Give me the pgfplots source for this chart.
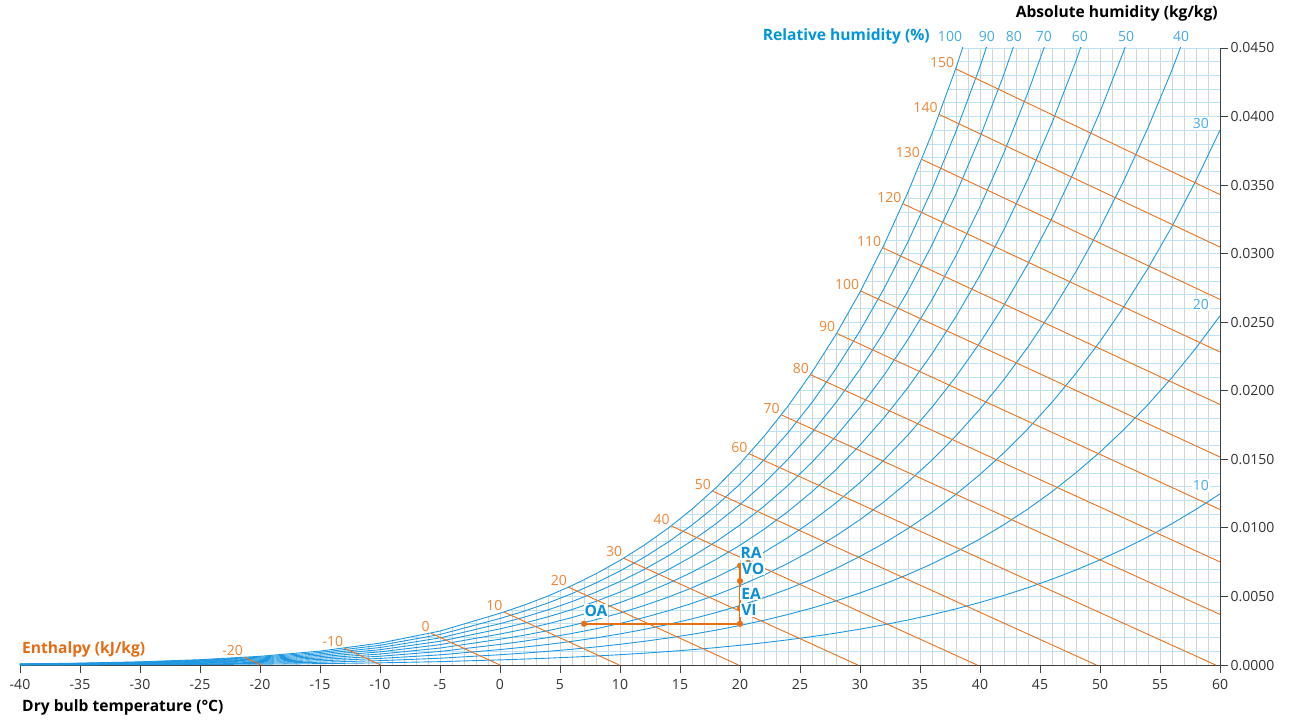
\documentclass[border=0pt]{standalone}
\usepackage{fontspec}
\setmainfont{Open Sans}
\usepackage{pgfplots}
\usepackage{pgfplotstable}
\pgfplotsset{compat=1.18}
\definecolor{rhblue}{RGB}{30,152,224}
\definecolor{rhlabel}{RGB}{70,170,230}
\definecolor{rhtitle}{RGB}{0,150,220}
\definecolor{enth}{RGB}{232,114,28}
\definecolor{enthlabel}{RGB}{238,135,55}
\definecolor{enthtitle}{RGB}{228,108,20}
\definecolor{gridgray}{RGB}{212,212,212}
\definecolor{gridblue}{RGB}{190,226,245}
\definecolor{axisgray}{RGB}{64,64,64}
\definecolor{labelgray}{RGB}{51,51,51}
\definecolor{ptorange}{RGB}{232,112,16}
\definecolor{ptblue}{RGB}{10,143,216}

% saturation humidity ratio (kg/kg) at relative humidity 100% ... 10%
\pgfplotstableread{
T w100 w90 w80 w70 w60 w50 w40 w30 w20 w10
-40 0.0000786 0.0000707 0.0000629 0.0000550 0.0000472 0.0000393 0.0000314 0.0000236 0.0000157 0.0000079
-35 0.000137 0.000123 0.000110 0.000096 0.000082 0.000068 0.000055 0.000041 0.000027 0.000014
-30 0.000233 0.000210 0.000187 0.000163 0.000140 0.000117 0.000093 0.000070 0.000047 0.000023
-25 0.000390 0.000351 0.000312 0.000273 0.000234 0.000195 0.000156 0.000117 0.000078 0.000039
-20 0.000636 0.000572 0.000509 0.000445 0.000382 0.000318 0.000254 0.000191 0.000127 0.000064
-15 0.001016 0.000915 0.000813 0.000711 0.000610 0.000508 0.000407 0.000305 0.000203 0.000102
-10 0.001599 0.001439 0.001279 0.001119 0.000959 0.000799 0.000640 0.000480 0.000320 0.000160
-5 0.002476 0.002228 0.001980 0.001732 0.001485 0.001237 0.000990 0.000742 0.000495 0.000247
0 0.003775 0.003395 0.003016 0.002638 0.002259 0.001882 0.001504 0.001128 0.000751 0.000375
2 0.004364 0.003925 0.003487 0.003049 0.002611 0.002175 0.001738 0.001303 0.000868 0.000434
4 0.005034 0.004527 0.004021 0.003515 0.003011 0.002507 0.002004 0.001502 0.001000 0.000500
6 0.005795 0.005211 0.004627 0.004045 0.003464 0.002884 0.002305 0.001727 0.001150 0.000575
8 0.006657 0.005985 0.005314 0.004645 0.003977 0.003311 0.002646 0.001982 0.001320 0.000659
10 0.007631 0.006859 0.006090 0.005322 0.004556 0.003792 0.003030 0.002270 0.001511 0.000755
12 0.008731 0.007847 0.006965 0.006086 0.005209 0.004335 0.003463 0.002594 0.001727 0.000862
14 0.009971 0.008960 0.007952 0.006946 0.005945 0.004946 0.003951 0.002958 0.001969 0.000983
16 0.011366 0.010211 0.009060 0.007913 0.006770 0.005632 0.004497 0.003367 0.002240 0.001118
18 0.012934 0.011616 0.010304 0.008998 0.007696 0.006400 0.005110 0.003824 0.002544 0.001270
20 0.014697 0.013196 0.011702 0.010216 0.008736 0.007263 0.005797 0.004337 0.002885 0.001439
22 0.016671 0.014964 0.013265 0.011576 0.009896 0.008225 0.006563 0.004909 0.003264 0.001628
24 0.018881 0.016942 0.015014 0.013098 0.011193 0.009300 0.007417 0.005547 0.003687 0.001838
26 0.021352 0.019151 0.016965 0.014794 0.012638 0.010496 0.008369 0.006255 0.004156 0.002071
28 0.024113 0.021618 0.019142 0.016685 0.014247 0.011827 0.009426 0.007043 0.004677 0.002330
30 0.027201 0.024375 0.021572 0.018794 0.016040 0.013310 0.010602 0.007918 0.005256 0.002617
32 0.030646 0.027446 0.024277 0.021139 0.018032 0.014954 0.011906 0.008887 0.005897 0.002935
34 0.034487 0.030867 0.027287 0.023746 0.020243 0.016779 0.013351 0.009960 0.006605 0.003285
36 0.038771 0.034678 0.030635 0.026642 0.022697 0.018800 0.014949 0.011145 0.007386 0.003671
38 0.043548 0.038920 0.034357 0.029856 0.025417 0.021037 0.016717 0.012454 0.008248 0.004097
40 0.048872 0.043642 0.038493 0.033423 0.028430 0.023512 0.018669 0.013897 0.009196 0.004565
42 nan 0.048897 0.043088 0.037378 0.031766 0.026248 0.020823 0.015487 0.010240 0.005078
44 nan nan 0.048192 0.041764 0.035457 0.029270 0.023197 0.017237 0.011386 0.005642
46 nan nan nan 0.046626 0.039542 0.032606 0.025814 0.019162 0.012645 0.006259
48 nan nan nan nan 0.044060 0.036288 0.028696 0.021276 0.014024 0.006934
50 nan nan nan nan 0.049051 0.040345 0.031863 0.023595 0.015534 0.007671
52 nan nan nan nan nan 0.044827 0.035352 0.026143 0.017188 0.008477
54 nan nan nan nan nan 0.049763 0.039184 0.028932 0.018994 0.009354
56 nan nan nan nan nan nan 0.043400 0.031992 0.020968 0.010310
58 nan nan nan nan nan nan 0.048032 0.035342 0.023123 0.011351
60 nan nan nan nan nan nan nan 0.039009 0.025473 0.012481
}\rh

\newcommand{\lbl}{\fontsize{14}{16}\selectfont}
\newcommand{\lblb}{\fontsize{15.6}{18}\selectfont\bfseries}
\tikzset{
  enl/.style={enth, line width=0.9pt},
  enn/.style={pos=0, anchor=south east, inner sep=1pt, font=\lbl, text=enthlabel},
  pl/.style={font=\lblb, text=ptblue, fill=white, inner sep=1pt},
  rl/.style={font=\lbl, text=rhlabel, inner sep=1pt},
}

\begin{document}
\begin{tikzpicture}
\begin{axis}[
  width=1200pt, height=617pt, scale only axis,
  xmin=-40, xmax=60, ymin=0, ymax=0.045,
  axis x line*=bottom, axis y line*=right,
  axis line style={draw=axisgray, line width=0.9pt},
  xtick={-40,-35,...,60},
  ytick={0,0.005,0.01,0.015,0.02,0.025,0.03,0.035,0.04,0.045},
  minor xtick={-39,-38,...,59},
  minor ytick={0.001,0.002,0.003,0.004,0.006,0.007,0.008,0.009,0.011,0.012,0.013,0.014,0.016,0.017,0.018,0.019,0.021,0.022,0.023,0.024,0.026,0.027,0.028,0.029,0.031,0.032,0.033,0.034,0.036,0.037,0.038,0.039,0.041,0.042,0.043,0.044,0.005,0.01,0.015,0.02,0.025,0.03,0.035,0.04,0.045},
  grid=minor,
  every minor x grid/.style={draw=gridgray, line width=0.9pt},
  every minor y grid/.style={draw=gridblue, line width=0.9pt},
  tick align=outside,
  major tick length=8pt, minor tick length=0pt,
  every tick/.style={draw=axisgray, line width=0.9pt},
  tick label style={font=\lbl, text=labelgray},
  x tick label style={yshift=-3pt},
  /pgf/number format/assume math mode=true,
  y tick label style={xshift=-1pt, /pgf/number format/.cd, fixed, fixed zerofill, precision=4},
  scaled y ticks=false,
  clip mode=individual,
]
% white area above the saturation curve (no grid there)
\addplot[fill=white, draw=none] coordinates {
 (-40.5,0.0000786) (-40,0.0000786) (-35,0.000137) (-30,0.000233) (-25,0.000390) (-20,0.000636)
 (-15,0.001016) (-10,0.001599) (-5,0.002476) (0,0.003775) (2,0.004364) (4,0.005034)
 (6,0.005795) (8,0.006657) (10,0.007631) (12,0.008731) (14,0.009971) (16,0.011366)
 (18,0.012934) (20,0.014697) (22,0.016671) (24,0.018881) (26,0.021352) (28,0.024113)
 (30,0.027201) (32,0.030646) (34,0.034487) (36,0.038771) (38,0.043548) (38.55,0.045)
 (38.55,0.0475) (-40.5,0.0475)} \closedcycle;

% relative humidity curves
\addplot[rhblue, line width=0.9pt] table[x=T, y=w100] {\rh};
\addplot[rhblue, line width=0.9pt] table[x=T, y=w90] {\rh};
\addplot[rhblue, line width=0.9pt] table[x=T, y=w80] {\rh};
\addplot[rhblue, line width=0.9pt] table[x=T, y=w70] {\rh};
\addplot[rhblue, line width=0.9pt] table[x=T, y=w60] {\rh};
\addplot[rhblue, line width=0.9pt] table[x=T, y=w50] {\rh};
\addplot[rhblue, line width=0.9pt] table[x=T, y=w40] {\rh};
\addplot[rhblue, line width=0.9pt] table[x=T, y=w30] {\rh};
\addplot[rhblue, line width=0.9pt] table[x=T, y=w20] {\rh};
\addplot[rhblue, line width=0.9pt] table[x=T, y=w10] {\rh};

% enthalpy lines
\addplot[enl] coordinates {(-21.3,0.00056) (-19.88,0)} node[enn] {-20};
\addplot[enl] coordinates {(-12.95,0.001226) (-9.94,0)} node[enn] {-10};
\addplot[enl] coordinates {(-5.75,0.00232) (0,0)} node[enn] {0};
\addplot[enl] coordinates {(0.32,0.00387) (9.94,0)} node[enn] {10};
\addplot[enl] coordinates {(5.70,0.00568) (19.88,0)} node[enn] {20};
\addplot[enl] coordinates {(10.30,0.00779) (29.82,0)} node[enn] {30};
\addplot[enl] coordinates {(14.26,0.01015) (39.76,0)} node[enn] {40};
\addplot[enl] coordinates {(17.70,0.01269) (49.70,0)} node[enn] {50};
\addplot[enl] coordinates {(20.73,0.01542) (59.64,0)} node[enn] {60};
\addplot[enl] coordinates {(23.43,0.01825) (60,0.00369)} node[enn] {70};
\addplot[enl] coordinates {(25.86,0.02118) (60,0.00752)} node[enn] {80};
\addplot[enl] coordinates {(28.05,0.02419) (60,0.01134)} node[enn] {90};
\addplot[enl] coordinates {(30.05,0.02728) (60,0.01517)} node[enn] {100};
\addplot[enl] coordinates {(31.88,0.03044) (60,0.01900)} node[enn] {110};
\addplot[enl] coordinates {(33.56,0.03365) (60,0.02283)} node[enn] {120};
\addplot[enl] coordinates {(35.12,0.03689) (60,0.02666)} node[enn] {130};
\addplot[enl] coordinates {(36.58,0.04016) (60,0.03048)} node[enn] {140};
\addplot[enl] coordinates {(37.97,0.04348) (60,0.03431)} node[enn] {150};

% process
\addplot[ptorange, line width=1.6pt] coordinates {(7,0.00301) (20,0.00301)};
\addplot[ptorange, line width=1.1pt] coordinates {(20,0.00301) (20,0.00724)};
\addplot[only marks, mark=*, mark size=2.8pt, ptorange] coordinates {(7,0.00301) (20,0.00301) (20,0.00416) (20,0.00613) (20,0.00724)};

\node[pl] at (20.92,0.00817) {RA};
\node[pl] at (21.08,0.00703) {VO};
\node[pl] at (20.92,0.00522) {EA};
\node[pl] at (20.75,0.00401) {VI};
\node[pl] at (8.0,0.00394) {OA};

% relative humidity labels
\node[rl, fill=white] at (58.4,0.0395) {30};
\node[rl, fill=white] at (58.4,0.0263) {20};
\node[rl, fill=white] at (58.4,0.0131) {10};
\node[rl] at (37.5,0.04587) {100};
\node[rl] at (40.58,0.04587) {90};
\node[rl] at (42.83,0.04587) {80};
\node[rl] at (45.33,0.04587) {70};
\node[rl] at (48.33,0.04587) {60};
\node[rl] at (52.17,0.04587) {50};
\node[rl] at (56.75,0.04587) {40};

% titles
\node[anchor=east, font=\lblb, text=rhtitle, inner sep=0pt] at (rel axis cs:0.7583,1.0194) {Relative humidity (\%)};
\node[anchor=east, font=\lblb, text=black, inner sep=0pt] at (rel axis cs:0.9983,1.0565) {Absolute humidity (kg/kg)};
\node[anchor=west, font=\lblb, text=enthtitle, inner sep=0pt] at (rel axis cs:0.0017,0.0259) {Enthalpy (kJ/kg)};
\node[anchor=west, font=\lblb, text=black, inner sep=0pt] at (rel axis cs:0.0017,-0.0695) {Dry bulb temperature (°C)};

\coordinate (bbA) at (rel axis cs:-0.016667,-0.0875);
\coordinate (bbB) at (rel axis cs:1.060833,1.0778);
\end{axis}
\pgfresetboundingbox
\useasboundingbox (bbA) rectangle (bbB);
\end{tikzpicture}
\end{document}
